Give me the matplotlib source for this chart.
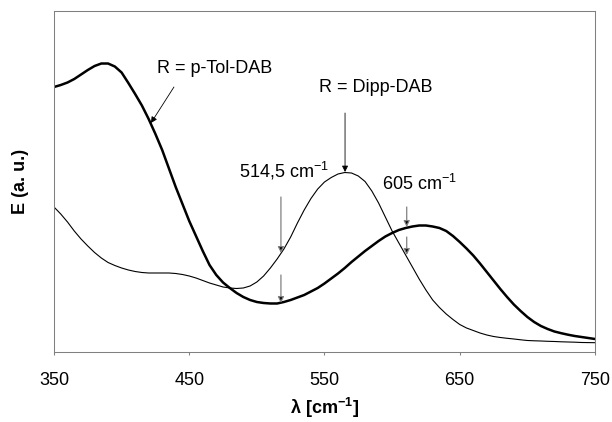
import matplotlib
matplotlib.use('Agg')
import matplotlib.pyplot as plt

plt.rcParams['font.family'] = ['Liberation Sans', 'DejaVu Sans']
plt.rcParams['mathtext.default'] = 'regular'

# wavelength grid, 5 nm steps
wavelength = list(range(350, 755, 5))

# R = p-Tol-DAB (thick curve), arbitrary units
e_ptol = [265, 267, 269.5, 273, 277.5, 282, 286, 288.5, 288.5, 285.5,
          279.5, 269, 258, 246.5, 233, 218, 202, 183.5, 165, 148,
          131, 116, 101, 87, 77, 69.5, 64, 59, 55, 52,
          50, 49, 48.5, 48.5, 50, 52, 54.5, 57, 60.5, 64,
          68.5, 73.5, 78.5, 84, 90, 95.5, 101, 106, 111, 115.5,
          119, 122, 124, 125.5, 126.5, 126.5, 125.5, 124, 121, 116,
          110, 103.5, 96.5, 88.5, 80, 71.5, 63, 55, 47.5, 41,
          35, 30, 26, 23, 20.5, 18.8, 17.3, 16, 15, 14, 13]

# R = Dipp-DAB (thin curve), arbitrary units
e_dipp = [145, 138, 130, 121, 113, 106, 99.5, 94, 89.5, 86.5,
          84, 82, 80.5, 79.5, 79, 79, 79, 79, 78.5, 77.5,
          76, 74, 71.5, 69, 67, 65, 64, 63.5, 64, 66,
          70, 76, 84, 93, 103, 115, 129, 142, 153.5, 163,
          170, 174.5, 178, 179.5, 179, 176, 170.5, 161, 149, 135,
          121, 109, 97, 85, 73, 62, 52, 44.5, 38, 32.5,
          27.5, 24, 21.5, 19, 17, 15.5, 14.5, 13.7, 13, 12.2,
          11.5, 11.2, 11, 10.7, 10.5, 10.2, 10, 9.8, 9.5, 9.4, 9.3]

xticks = [350, 450, 550, 650, 750]

fig = plt.figure(figsize=(6.12, 4.22), dpi=100)
ax = fig.add_axes([0.0882, 0.1659, 0.884, 0.808])

ax.plot(wavelength, e_dipp, color='black', lw=0.8)
ax.plot(wavelength, e_ptol, color='black', lw=1.8)

ax.set_xlim(350, 750)
ax.set_ylim(0, 341)
ax.set_xticks(xticks)
ax.set_yticks([])
ax.tick_params(axis='x', direction='out', length=2.5, width=0.75,
               color='#808080', pad=12, labelsize=13)
for s in ax.spines.values():
    s.set_color('#808080')
    s.set_linewidth(0.75)

ax.set_xlabel('λ [cm$^{-1}$]', fontsize=13, fontweight='bold', labelpad=5)
ax.set_ylabel('E (a. u.)', fontsize=13, fontweight='bold', labelpad=18)

# labels with black arrows
ax.text(469, 284, 'R = p-Tol-DAB', fontsize=13, ha='center', va='center')
ax.annotate('', xy=(421.7, 229), xytext=(438.7, 265),
            arrowprops=dict(arrowstyle='-|>', color='black', lw=0.6,
                            mutation_scale=9, shrinkA=0, shrinkB=0))

ax.text(588, 265, 'R = Dipp-DAB', fontsize=13, ha='center', va='center')
ax.annotate('', xy=(565.2, 180), xytext=(565.2, 239),
            arrowprops=dict(arrowstyle='-|>', color='black', lw=0.6,
                            mutation_scale=9, shrinkA=0, shrinkB=0))

# excitation lines with gray arrows
ax.text(520.4, 181, '514,5 cm$^{-1}$', fontsize=13, ha='center', va='center')
ax.text(620.6, 168, '605 cm$^{-1}$', fontsize=13, ha='center', va='center')

grey_arrow = dict(arrowstyle='-|>', edgecolor='#808080', facecolor='black',
                  lw=0.9, mutation_scale=9, shrinkA=0, shrinkB=0)
ax.annotate('', xy=(517.8, 99), xytext=(517.8, 155), arrowprops=grey_arrow)
ax.annotate('', xy=(517.8, 49), xytext=(517.8, 77), arrowprops=grey_arrow)
ax.annotate('', xy=(610.8, 125), xytext=(610.8, 145), arrowprops=grey_arrow)
ax.annotate('', xy=(610.8, 97), xytext=(610.8, 115), arrowprops=grey_arrow)

fig.savefig('out.png', dpi=100)
